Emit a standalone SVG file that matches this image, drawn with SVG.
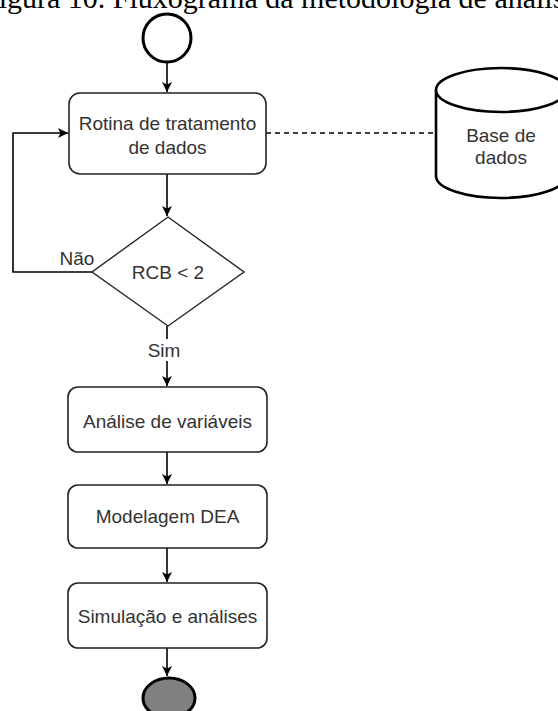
<svg xmlns="http://www.w3.org/2000/svg" width="558" height="711" viewBox="0 0 558 711">
  <defs>
    <marker id="arrow" viewBox="0 0 10 10" refX="10" refY="5" markerWidth="10" markerHeight="10" markerUnits="userSpaceOnUse" orient="auto">
      <path d="M0,0 L10,5 L0,10 L2.5,5 Z" fill="#000"/>
    </marker>
    <style>
      .box { fill: #fff; stroke: #222; stroke-width: 1.6; }
      .diam { fill: #fff; stroke: #222; stroke-width: 1.4; }
      .lbl { font-family: "Liberation Sans", Arial, sans-serif; font-size: 19px; fill: #333; text-anchor: middle; dominant-baseline: central; }
      .edge { fill: none; stroke: #000; stroke-width: 1.6; }
      .title { font-family: "Liberation Serif", "Times New Roman", serif; font-size: 30px; fill: #000; }
    </style>
  </defs>
  <rect width="558" height="711" fill="#fff"/>

  <!-- caption, partly clipped by the page edges -->
  <text class="title" x="-18" y="8">Figura 10. Fluxograma da metodologia de análise</text>

  <!-- connectors -->
  <g id="connectors">
    <line class="edge" x1="167" y1="62" x2="167" y2="92" marker-end="url(#arrow)"/>
    <line class="edge" x1="167" y1="174" x2="167" y2="216" marker-end="url(#arrow)"/>
    <polyline class="edge" points="92,272 13,272 13,133 68,133" marker-end="url(#arrow)"/>
    <line class="edge" x1="266" y1="133" x2="436" y2="133" stroke-dasharray="5,4" stroke-width="1.3"/>
    <line class="edge" x1="167" y1="326" x2="167" y2="386" marker-end="url(#arrow)"/>
    <line class="edge" x1="167" y1="452" x2="167" y2="484" marker-end="url(#arrow)"/>
    <line class="edge" x1="167" y1="548" x2="167" y2="582" marker-end="url(#arrow)"/>
    <line class="edge" x1="167" y1="648" x2="167" y2="676" marker-end="url(#arrow)"/>
    <rect x="148" y="339" width="34" height="22" fill="#fff"/>
    <text class="lbl" x="164" y="350">Sim</text>
    <text class="lbl" x="77" y="258">Não</text>
  </g>

  <!-- start event -->
  <g id="start">
    <circle cx="167" cy="38" r="24" fill="#fff" stroke="#000" stroke-width="3"/>
  </g>

  <!-- data treatment routine -->
  <g id="rotina">
    <rect class="box" x="69" y="93" width="197" height="81" rx="11"/>
    <text class="lbl" x="167.5" y="123">Rotina de tratamento</text>
    <text class="lbl" x="167.5" y="147">de dados</text>
  </g>

  <!-- decision -->
  <g id="decisao">
    <polygon class="diam" points="168,217 244,272 168,326 92,272"/>
    <text class="lbl" x="168" y="272">RCB &lt; 2</text>
  </g>

  <!-- database -->
  <g id="base">
    <path d="M436,90 L436,176 A65,22 0 0 0 566,176 L566,90" fill="#fff" stroke="#000" stroke-width="2.6"/>
    <ellipse cx="501" cy="90" rx="65" ry="22" fill="#fff" stroke="#000" stroke-width="2.6"/>
    <text class="lbl" x="501" y="135">Base de</text>
    <text class="lbl" x="501" y="157">dados</text>
  </g>

  <g id="analise">
    <rect class="box" x="68" y="387" width="199" height="65" rx="10"/>
    <text class="lbl" x="167.5" y="421">Análise de variáveis</text>
  </g>

  <g id="modelagem">
    <rect class="box" x="68" y="485" width="199" height="63" rx="10"/>
    <text class="lbl" x="167.5" y="516">Modelagem DEA</text>
  </g>

  <g id="simulacao">
    <rect class="box" x="68" y="583" width="199" height="65" rx="10"/>
    <text class="lbl" x="167.5" y="616">Simulação e análises</text>
  </g>

  <!-- end event -->
  <g id="fim">
    <ellipse cx="169" cy="698" rx="26" ry="20" fill="#808080" stroke="#000" stroke-width="3"/>
  </g>
</svg>
